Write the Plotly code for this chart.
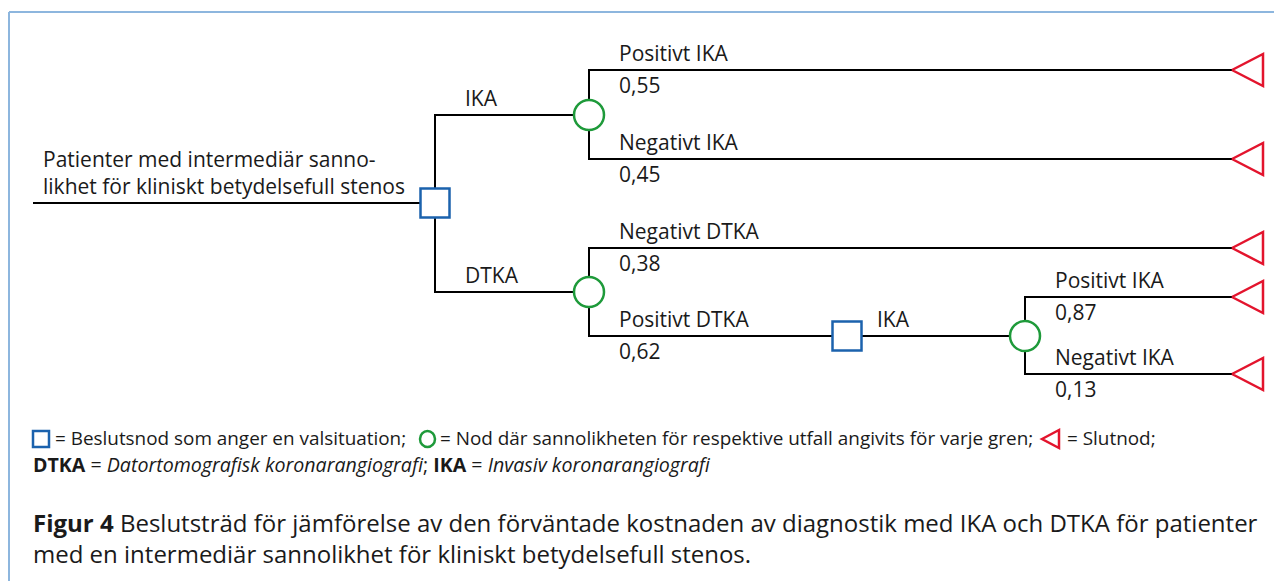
import plotly.graph_objects as go

# ---------------- data ----------------
# decision nodes (squares)
decision_names = ["D1", "D2"]
decision_x = [435, 847]
decision_y = [203, 336]

# chance nodes (circles)
chance_names = ["C1", "C2", "C3"]
chance_x = [589, 589, 1025]
chance_y = [115, 292, 336]

# terminal nodes (triangles, tip position)
terminal_names = ["T1", "T2", "T3", "T4", "T5"]
terminal_x = [1232, 1232, 1232, 1232, 1232]
terminal_y = [70, 159, 248, 297, 374]

# root start
root_x = 33
root_y = 203

# edges: parent -> child, branch label, probability
edge_parent = ["ROOT", "D1", "D1", "C1", "C1", "C2", "C2", "D2", "C3", "C3"]
edge_child = ["D1", "C1", "C2", "T1", "T2", "T3", "D2", "C3", "T4", "T5"]
edge_label = ["", "IKA", "DTKA", "Positivt IKA", "Negativt IKA",
              "Negativt DTKA", "Positivt DTKA", "IKA", "Positivt IKA", "Negativt IKA"]
edge_prob = ["", "", "", "0,55", "0,45", "0,38", "0,62", "", "0,87", "0,13"]

root_label = ["Patienter med intermediär sanno-", "likhet för kliniskt betydelsefull stenos"]

legend_items = ["= Beslutsnod som anger en valsituation;",
                "= Nod där sannolikheten för respektive utfall angivits för varje gren;",
                "= Slutnod;"]
abbrev_terms = ["DTKA", "IKA"]
abbrev_defs = ["Datortomografisk koronarangiografi", "Invasiv koronarangiografi"]
caption_lines = ["<b>Figur 4</b> Beslutsträd för jämförelse av den förväntade kostnaden av "
                 "diagnostik med IKA och DTKA för patienter",
                 "med en intermediär sannolikhet för kliniskt betydelsefull stenos."]

# ---------------- styles ----------------
FONT = "Open Sans"
TXT = "#1a1a1a"
BLUE = "#1b62ad"
GREEN = "#1e9a3a"
RED = "#e3142d"
FRAME = "#8db6de"
W, H = 1274, 581
F_TREE, F_LEG, F_ABBR, F_CAP = 21, 18.9, 19.6, 24

pos = {"ROOT": (root_x, root_y)}
for n, x, y in zip(decision_names, decision_x, decision_y):
    pos[n] = (x, y)
for n, x, y in zip(chance_names, chance_x, chance_y):
    pos[n] = (x, y)
for n, x, y in zip(terminal_names, terminal_x, terminal_y):
    pos[n] = (x, y)

fig = go.Figure()

# edges (elbow connectors)
ex, ey = [], []
for p, c in zip(edge_parent, edge_child):
    px, py = pos[p]
    cx, cy = pos[c]
    ex += [px, px, cx, None]
    ey += [py, cy, cy, None]
fig.add_trace(go.Scatter(x=ex, y=ey, mode="lines",
                         line=dict(color="black", width=2), hoverinfo="skip"))

# terminal triangles
tri_w, tri_h = 31, 16
tx, ty = [], []
for x, y in zip(terminal_x, terminal_y):
    tx += [x, x + tri_w, x + tri_w, x, None]
    ty += [y, y - tri_h, y + tri_h, y, None]
fig.add_trace(go.Scatter(x=tx, y=ty, mode="lines", fill="toself", fillcolor="white",
                         line=dict(color=RED, width=2.5), hoverinfo="skip"))

# decision squares
fig.add_trace(go.Scatter(x=decision_x, y=decision_y, mode="markers",
                         marker=dict(symbol="square", size=29, color="white",
                                     line=dict(color=BLUE, width=2.5)),
                         hoverinfo="skip"))
# chance circles
fig.add_trace(go.Scatter(x=chance_x, y=chance_y, mode="markers",
                         marker=dict(symbol="circle", size=30, color="white",
                                     line=dict(color=GREEN, width=2.5)),
                         hoverinfo="skip"))

annotations = []
for p, c, lab, pr in zip(edge_parent, edge_child, edge_label, edge_prob):
    px, py = pos[p]
    cx, cy = pos[c]
    if lab:
        annotations.append(dict(x=px + 28, y=cy - 17, text=lab, xanchor="left",
                                yanchor="middle", showarrow=False,
                                font=dict(family=FONT, size=F_TREE, color=TXT)))
    if pr:
        annotations.append(dict(x=px + 28, y=cy + 15, text=pr, xanchor="left",
                                yanchor="middle", showarrow=False,
                                font=dict(family=FONT, size=F_TREE, color=TXT)))

for i, t in enumerate(root_label):
    annotations.append(dict(x=root_x + 8, y=root_y - 44 + 27 * i, text=t, xanchor="left",
                            yanchor="middle", showarrow=False,
                            font=dict(family=FONT, size=F_TREE, color=TXT)))

# legend line 1 (text segments between icons)
leg_text_x = [53, 438, 1065]
for x, t in zip(leg_text_x, legend_items):
    annotations.append(dict(x=x, y=438, text=t, xanchor="left", yanchor="middle",
                            showarrow=False, font=dict(family=FONT, size=F_LEG, color=TXT)))
# legend line 2 (abbreviations)
abbrev_parts = [f"<b>{term}</b> = <i>{d}</i>" for term, d in zip(abbrev_terms, abbrev_defs)]
abbrev_line = "; ".join(abbrev_parts)
annotations.append(dict(x=31, y=464.5, text=abbrev_line, xanchor="left", yanchor="middle",
                        showarrow=False, font=dict(family=FONT, size=F_ABBR, color=TXT)))
# caption
annotations.append(dict(x=31, y=537.5, text="<br>".join(caption_lines), xanchor="left",
                        yanchor="middle", align="left", showarrow=False,
                        font=dict(family=FONT, size=F_CAP, color=TXT)))

shapes = [
    dict(type="line", x0=9, x1=W, y0=12, y1=12, line=dict(color=FRAME, width=2)),
    dict(type="line", x0=9, x1=9, y0=12, y1=H, line=dict(color=FRAME, width=2)),
    # legend icons
    dict(type="rect", x0=33, x1=49, y0=431, y1=447, line=dict(color=BLUE, width=2.5),
         fillcolor="white"),
    dict(type="circle", x0=420, x1=435, y0=431, y1=447, line=dict(color=GREEN, width=2.5),
         fillcolor="white"),
    dict(type="path", path="M 1042 439 L 1059 430 L 1059 448 Z",
         line=dict(color=RED, width=2.5), fillcolor="white"),
]

fig.update_layout(
    width=W, height=H, autosize=False,
    margin=dict(l=0, r=0, t=0, b=0),
    paper_bgcolor="white", plot_bgcolor="white",
    showlegend=False,
    xaxis=dict(range=[0, W], visible=False, fixedrange=True),
    yaxis=dict(range=[H, 0], visible=False, fixedrange=True),
    annotations=annotations, shapes=shapes,
)

fig.write_html("out.html", config={"displayModeBar": False},
               post_script="document.body.style.margin='0';document.body.style.overflow='hidden';")
